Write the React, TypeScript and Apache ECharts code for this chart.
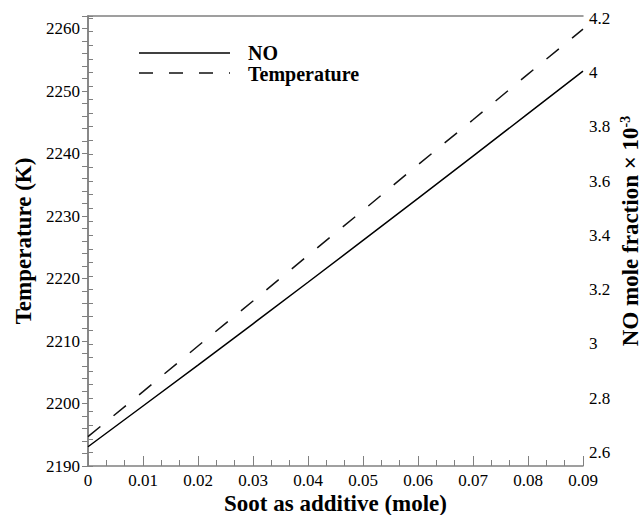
import { useEffect, useRef } from "react";
import * as echarts from "echarts";

const sootValues = [0, 0.01, 0.02, 0.03, 0.04, 0.05, 0.06, 0.07, 0.08, 0.09];
const noMoleFraction = [2.621, 2.771, 2.922, 3.074, 3.227, 3.381, 3.536, 3.692, 3.848, 4.005];
const temperatureK = [2194.7, 2201.9, 2209.2, 2216.4, 2223.7, 2230.9, 2238.2, 2245.4, 2252.7, 2259.9];
const seriesNames = ["NO", "Temperature"];
const axisTitles = ["Soot as additive (mole)", "Temperature (K)", "NO mole fraction × 10{sup|-3}"];

const SERIF = "Liberation Serif";
const AXIS_GRAY = "#808080";

export default function App() {
  const ref = useRef<HTMLDivElement>(null);
  useEffect(() => {
    if (!ref.current) return;
    const chart = echarts.init(ref.current, undefined, { renderer: "svg" });
    const axisLine = { show: true, lineStyle: { color: AXIS_GRAY, width: 1.5 } };
    const tickStyle = { color: AXIS_GRAY, width: 1 };
    const labelBase = { color: "#000", fontSize: 17, fontFamily: SERIF };
    const titleFont = `bold 23px "${SERIF}"`;
    chart.setOption({
      animation: false,
      backgroundColor: "#fff",
      grid: { left: 88, right: 60, top: 16, bottom: 49, containLabel: false, outerBoundsMode: "none" },
      xAxis: [
        {
          type: "value",
          position: "bottom",
          min: 0,
          max: 0.09,
          interval: 0.01,
          axisLine,
          axisTick: { show: true, inside: true, length: 10, lineStyle: tickStyle },
          minorTick: { show: true, splitNumber: 3, length: 6, lineStyle: tickStyle },
          splitLine: { show: false },
          minorSplitLine: { show: false },
          axisLabel: {
            ...labelBase,
            margin: 6,
            formatter: (v: number) => String(Number(v.toFixed(2))),
          },
        },
        {
          type: "value",
          position: "top",
          min: 0,
          max: 0.09,
          axisLine,
          axisTick: { show: false },
          axisLabel: { show: false },
          splitLine: { show: false },
        },
      ],
      yAxis: [
        {
          type: "value",
          position: "left",
          min: 2190,
          max: 2262,
          interval: 2,
          axisLine,
          axisTick: { show: true, inside: false, length: 6, lineStyle: tickStyle },
          splitLine: { show: false },
          axisLabel: {
            ...labelBase,
            margin: 8,
            formatter: (v: number) => (Math.abs(v % 10) < 1e-6 ? String(Math.round(v)) : ""),
          },
        },
        {
          type: "value",
          position: "right",
          min: 2.55,
          max: 4.208,
          interval: 0.05,
          axisLine,
          axisTick: { show: true, inside: false, length: 5, lineStyle: tickStyle },
          splitLine: { show: false },
          axisLabel: {
            ...labelBase,
            margin: 6,
            formatter: (v: number) =>
              Math.abs(v * 5 - Math.round(v * 5)) < 1e-6 ? String(Math.round(v * 10) / 10) : "",
          },
        },
      ],
      series: [
        {
          name: seriesNames[0],
          type: "line",
          xAxisIndex: 0,
          yAxisIndex: 1,
          symbol: "none",
          smooth: false,
          lineStyle: { color: "#000", width: 1.5, type: "solid" },
          data: sootValues.map((x, i) => [x, noMoleFraction[i]]),
        },
        {
          name: seriesNames[1],
          type: "line",
          xAxisIndex: 0,
          yAxisIndex: 0,
          symbol: "none",
          smooth: false,
          lineStyle: { color: "#111", width: 1.5, type: [16, 17] },
          data: sootValues.map((x, i) => [x, temperatureK[i]]),
        },
      ],
      graphic: [
        {
          type: "line",
          shape: { x1: 139, y1: 53, x2: 230, y2: 53 },
          style: { stroke: "#000", lineWidth: 1.5 },
        },
        {
          type: "line",
          shape: { x1: 139, y1: 73, x2: 230, y2: 73 },
          style: { stroke: "#111", lineWidth: 1.5, lineDash: [14, 16] },
        },
        {
          type: "text",
          x: 248,
          y: 53,
          style: { text: seriesNames[0], fill: "#000", font: `bold 20px "${SERIF}"`, verticalAlign: "middle", align: "left" },
        },
        {
          type: "text",
          x: 248,
          y: 74,
          style: { text: seriesNames[1], fill: "#000", font: `bold 20px "${SERIF}"`, verticalAlign: "middle", align: "left" },
        },
        {
          type: "text",
          x: 335.5,
          y: 503,
          style: { text: axisTitles[0], fill: "#000", font: titleFont, align: "center", verticalAlign: "middle" },
        },
        {
          type: "text",
          x: 23,
          y: 241,
          rotation: Math.PI / 2,
          style: { text: axisTitles[1], fill: "#000", font: titleFont, align: "center", verticalAlign: "middle" },
        },
        {
          type: "text",
          x: 630,
          y: 231,
          rotation: Math.PI / 2,
          style: {
            text: axisTitles[2],
            fill: "#000",
            font: titleFont,
            align: "center",
            verticalAlign: "middle",
            rich: {
              sup: { font: `bold 14px "${SERIF}"`, fill: "#000", lineHeight: 14, padding: [0, 0, 9, 0] },
            },
          },
        },
      ],
    });
    return () => chart.dispose();
  }, []);
  return <div ref={ref} style={{ width: 643, height: 515, position: "fixed", left: 0, top: 0 }} />;
}
